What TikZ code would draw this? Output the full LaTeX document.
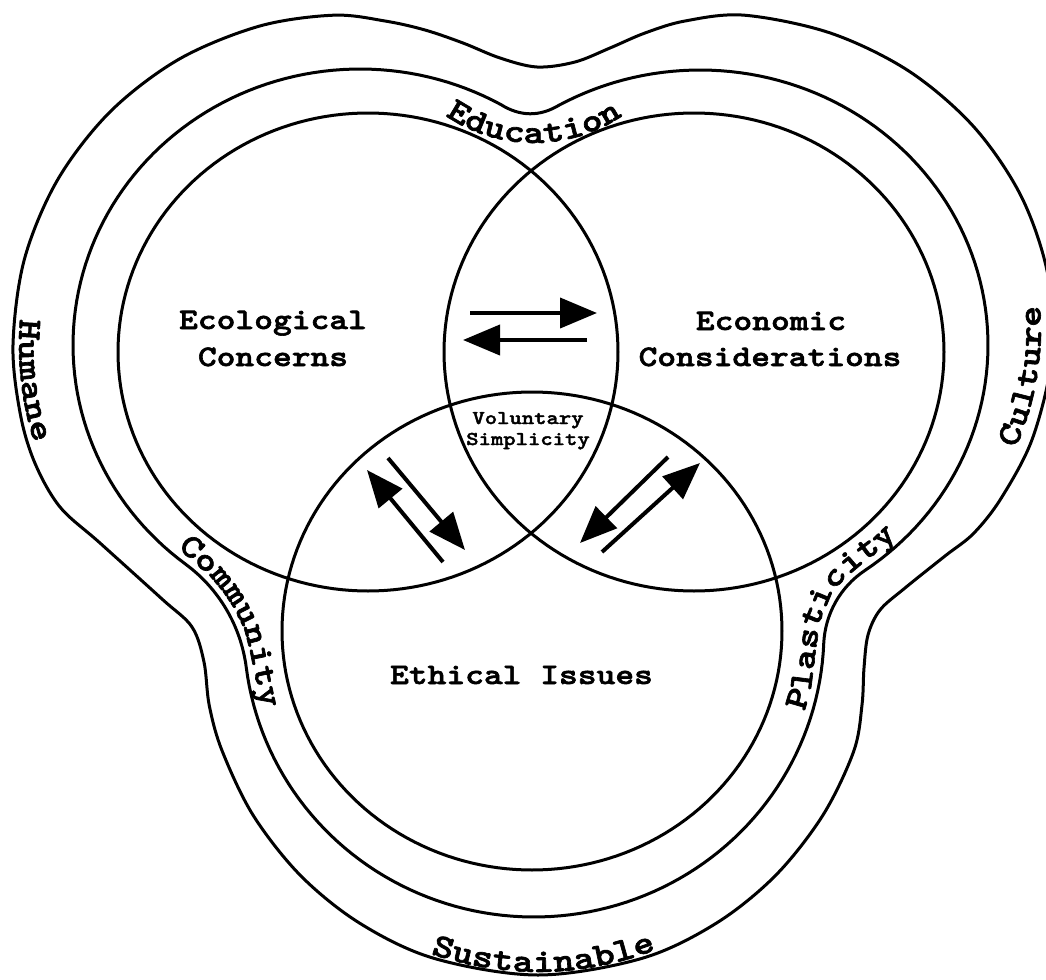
\documentclass[tikz,border=0pt]{standalone}
\usepackage{fontspec}
\newfontfamily\cour[FakeStretch=1.2,FakeBold=2]{lmmonolt10-bold.otf}
\usetikzlibrary{arrows.meta,decorations.text}
\newcommand\mainfnt{\cour\fontsize{14.9}{18}\selectfont}
\newcommand\smallfnt{\cour\fontsize{9.8}{12}\selectfont}
\newcommand\bandfnt{\cour\fontsize{16.6}{20}\selectfont}
\begin{document}
\begin{tikzpicture}[x=0.5pt,y=-0.5pt,
  ring/.style={line width=1.5pt, line join=round},
  arw/.style={line width=2pt, -{Triangle[length=18.5pt,width=15pt]}},
  mainlbl/.style={font=\mainfnt, inner sep=0pt, anchor=base},
  smalllbl/.style={font=\smallfnt, inner sep=0pt, anchor=base}]
\fill[white] (0,0) rectangle (1046,980);
\useasboundingbox (0,0) rectangle (1046,980);

% three overlapping circles
\draw[ring] plot[domain=0:360,samples=181] ({368+250*cos(\x)},{352+239*sin(\x)}) -- cycle;
\draw[ring] plot[domain=0:360,samples=181] ({694+250*cos(\x)},{352+239*sin(\x)}) -- cycle;
\draw[ring] plot[domain=0:360,samples=181] ({532+250*cos(\x)},{631+239*sin(\x)}) -- cycle;

% middle band line
\draw[ring] plot[domain=240.85:415.1,samples=90] ({700+288*cos(\x)},{345+275*sin(\x)})
  .. controls (840.2,587) and (825,614.1) .. (823.7,643.9)
  -- plot[domain=2.4:172.8,samples=90] ({534+290*cos(\x)},{632+285*sin(\x)})
  .. controls (241,626.4) and (219.2,588.9) .. (185.7,564.3)
  -- plot[domain=127.4:299.3,samples=90] ({360+287*cos(\x)},{345+276*sin(\x)})
  .. controls (520.2,116.8) and (539.9,116.9) .. (559.7,104.8) -- cycle;

% outer band line
\draw[ring] plot[smooth cycle, tension=0.55] coordinates {
  (537,67) (575,62) (610,48) (645,33) (685,21)
  (744.5,15.2) (830.6,33.1) (908.9,71.1) (973.9,126.9) (1021.3,196.5)
  (1047.9,275.1) (1051.7,357.5) (1032.6,438.1) (1001.6,497.5) (973.9,533.1)
  (945,556) (905,588) (880,610) (868,635) (864,668) (862,705)
  (853.7,751.3) (822.9,815.2) (775.6,875.4) (716.1,923.3) (641.8,958.4)
  (538,975) (434.2,958.4) (359.9,923.3) (300.4,875.4) (253.1,815.2)
  (222.3,751.3) (209.3,705.7) (204,662) (192,627) (162,599) (100,543)
  (60,507) (35,463.3) (20.3,414) (13,345) (24.3,259.6) (57.5,180) (110.2,111.7)
  (179,59.2) (259.1,26.2) (333.4,15.2) (385,21) (425,30) (463,43) (500,58)};

% main labels
\node[mainlbl] (eco1) at (273,329) {Ecological};
\node[mainlbl] (eco2) at (273,366) {Concerns};
\node[mainlbl] (econ1) at (771,330) {Economic};
\node[mainlbl] (econ2) at (770,366) {Considerations};
\node[mainlbl] (eth) at (521.5,684) {Ethical Issues};
\node[smalllbl] (vol1) at (528,424) {Voluntary};
\node[smalllbl] (vol2) at (528,445) {Simplicity};

% arrows
\coordinate (h1s) at (470,313); \coordinate (h1e) at (597,313);
\coordinate (h2s) at (587,340); \coordinate (h2e) at (463,340);
\coordinate (l1s) at (388,458); \coordinate (l1e) at (465,550);
\coordinate (l2s) at (443,562); \coordinate (l2e) at (367,470);
\coordinate (r1s) at (668,457); \coordinate (r1e) at (580,543);
\coordinate (r2s) at (602,552); \coordinate (r2e) at (700,463);
\draw[arw] (h1s) -- (h1e);
\draw[arw] (h2s) -- (h2e);
\draw[arw] (l1s) -- (l1e);
\draw[arw] (l2s) -- (l2e);
\draw[arw] (r1s) -- (r1e);
\draw[arw] (r2s) -- (r2e);

% band labels on curved paths
\path[decorate, decoration={text along path, text align=center, text={|\bandfnt|Education}}]
  plot[domain=0:1,samples=40] ({534+157*cos(130-80*\x)},{-14+157*sin(130-80*\x)});
\path[decorate, decoration={text along path, text align=center, text={|\bandfnt|Sustainable}}]
  plot[domain=0:1,samples=40] ({538+331*cos(124-70*\x)},{635+337*sin(124-70*\x)});
\path[decorate, decoration={text along path, text align=center, text={|\bandfnt|Humane}}]
  plot[domain=0:1,samples=40] ({345+326*cos(200-53*\x)},{345+324*sin(200-53*\x)});
\path[decorate, decoration={text along path, text align=center, text={|\bandfnt|Culture}}]
  plot[domain=0:1,samples=40] ({715+326*cos(37-56*\x)},{330+306*sin(37-56*\x)});
\path[decorate, decoration={text along path, text align=center, text={|\bandfnt|Community}}]
  plot coordinates {(151.8,524.9) (171,541.5) (189.8,558.7) (201.5,569) (213.1,579.8) (223.5,592.3) (232.7,606.2) (240,620.5) (246,635.5) (250,651) (253.2,666.8) (257.4,687.6) (261.9,708.6) (267.3,724.8) (273.5,740.6)};
\path[decorate, decoration={text along path, text align=center, text={|\bandfnt|Plasticity}}]
  plot coordinates {(799.9,727.1) (810.8,689.8) (816.7,643.6) (820.3,620.8) (829.4,598.8) (843.6,579.5) (860.9,564.8) (888.1,544.1) (908.9,524.2)};
\end{tikzpicture}
\end{document}
